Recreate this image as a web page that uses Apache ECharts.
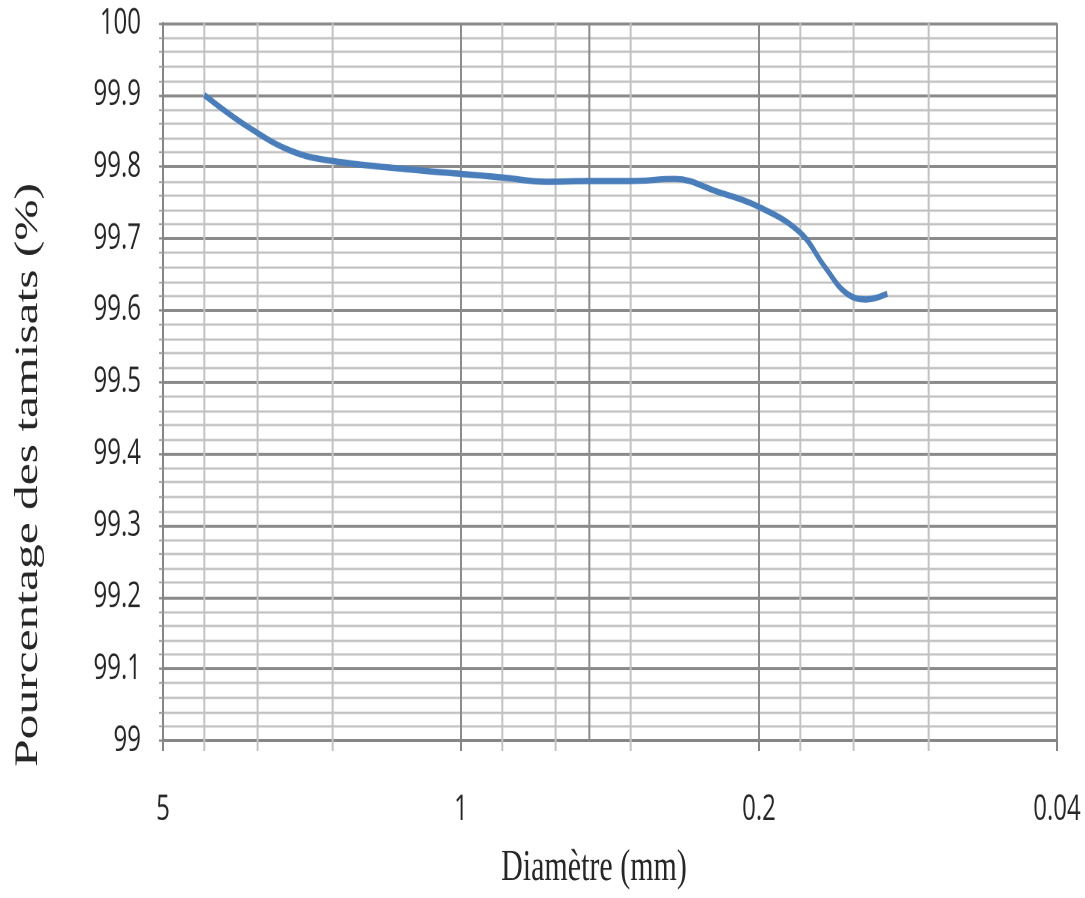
<!DOCTYPE html>
<html><head><meta charset="utf-8">
<script src="https://cdn.jsdelivr.net/npm/echarts@6/dist/echarts.min.js"></script>
<style>
html,body{margin:0;padding:0;background:#fff;overflow:hidden;}
#wrap{width:1085px;height:898px;overflow:hidden;}
#chart{width:1085px;height:599px;transform:scaleY(1.4992);transform-origin:0 0;}
</style></head><body>
<div id="wrap"><div id="chart"></div></div>
<script>
// Data
const diameters = [4, 3.15, 2.5, 2, 1.25, 1, 0.8, 0.63, 0.5, 0.4, 0.315, 0.25, 0.2, 0.16, 0.14, 0.125, 0.112, 0.1];
const passing   = [99.900, 99.855, 99.822, 99.808, 99.795, 99.790, 99.785, 99.779, 99.780, 99.780, 99.783, 99.765, 99.744, 99.708, 99.660, 99.624, 99.615, 99.623];
const xTickLabels = ['5', '1', '0.2', '0.04'];
const yTickLabels = ['99', '99.1', '99.2', '99.3', '99.4', '99.5', '99.6', '99.7', '99.8', '99.9', '100'];
const minorXTicks = [4, 3, 2, 0.8, 0.6, 0.4, 0.16, 0.12, 0.08];
const extraXLines = [0.5];

const xMin = 0.04, xMax = 5, yMin = 99, yMax = 100;

const chart = echarts.init(document.getElementById('chart'), null, {devicePixelRatio: 2});

function vLineItem(color, width, tickLen) {
  return function (params, api) {
    const v = api.value(0);
    const top = api.coord([v, yMax]);
    const bot = api.coord([v, yMin]);
    return {
      type: 'line',
      shape: {x1: top[0], y1: top[1], x2: bot[0], y2: bot[1] + tickLen},
      style: {stroke: color, lineWidth: width}
    };
  };
}

function fmtX(v) {
  const r = +(+v).toPrecision(3);
  const idx = [5, 1, 0.2, 0.04].findIndex(t => Math.abs(t - r) < 1e-9);
  return idx >= 0 ? xTickLabels[idx] : String(r);
}

chart.setOption({
  animation: false,
  backgroundColor: '#ffffff',
  grid: {left: 163, right: 28, top: 15.5, bottom: 104.5},
  xAxis: {
    type: 'log',
    logBase: 5,
    min: xMin,
    max: xMax,
    inverse: true,
    splitNumber: 3,
    name: 'Diamètre (mm)',
    nameLocation: 'middle',
    nameGap: 70,
    nameTextStyle: {fontFamily: 'Liberation Serif', fontSize: 30, color: '#262626', padding: [0, 32, 0, 0]},
    axisLine: {show: true, lineStyle: {color: '#868686', width: 2}},
    axisTick: {show: true, length: 7, lineStyle: {color: '#868686', width: 2}},
    axisLabel: {
      margin: 34,
      fontFamily: 'Open Sans',
      fontSize: 24,
      color: '#262626',
      formatter: fmtX
    },
    splitLine: {show: true, lineStyle: {color: '#8c8c8c', width: 2}},
    minorTick: {show: false},
    minorSplitLine: {show: false}
  },
  yAxis: {
    type: 'value',
    min: yMin,
    max: yMax,
    interval: 0.1,
    name: 'Pourcentage des tamisats (%)',
    nameLocation: 'middle',
    nameRotate: 90,
    nameGap: 118,
    nameTextStyle: {fontFamily: 'Liberation Serif', fontSize: 33, color: '#262626', padding: [0, 124, 0, 0]},
    axisLine: {show: true, lineStyle: {color: '#868686', width: 2}},
    axisTick: {show: true, length: 4, lineStyle: {color: '#868686', width: 1.5}},
    minorTick: {show: true, splitNumber: 5, length: 4, lineStyle: {color: '#a0a0a0', width: 1.2}},
    axisLabel: {
      margin: 22,
      fontFamily: 'Open Sans',
      fontSize: 24,
      color: '#262626',
      formatter: function (v) {
        const i = Math.round((v - yMin) * 10);
        return yTickLabels[i] !== undefined ? yTickLabels[i] : String(v);
      }
    },
    splitLine: {show: true, lineStyle: {color: '#8a8a8a', width: 2}},
    minorSplitLine: {show: true, lineStyle: {color: '#c2c2c2', width: 1.4}}
  },
  series: [
    {
      type: 'custom',
      name: 'minor-x',
      coordinateSystem: 'cartesian2d',
      clip: false,
      silent: true,
      z: 1,
      encode: {x: 0},
      data: minorXTicks.map(v => [v]),
      renderItem: vLineItem('#c3c3c3', 2, 7)
    },
    {
      type: 'custom',
      name: 'extra-x',
      coordinateSystem: 'cartesian2d',
      clip: false,
      silent: true,
      z: 1,
      encode: {x: 0},
      data: extraXLines.map(v => [v]),
      renderItem: vLineItem('#8c8c8c', 2, 0)
    },
    {
      type: 'line',
      name: 'Tamisats',
      data: diameters.map((d, i) => [d, passing[i]]),
      smooth: 0.4,
      showSymbol: false,
      symbol: 'none',
      z: 5,
      lineStyle: {color: '#4a7ebb', width: 4.2}
    }
  ]
});
</script>
</body></html>
